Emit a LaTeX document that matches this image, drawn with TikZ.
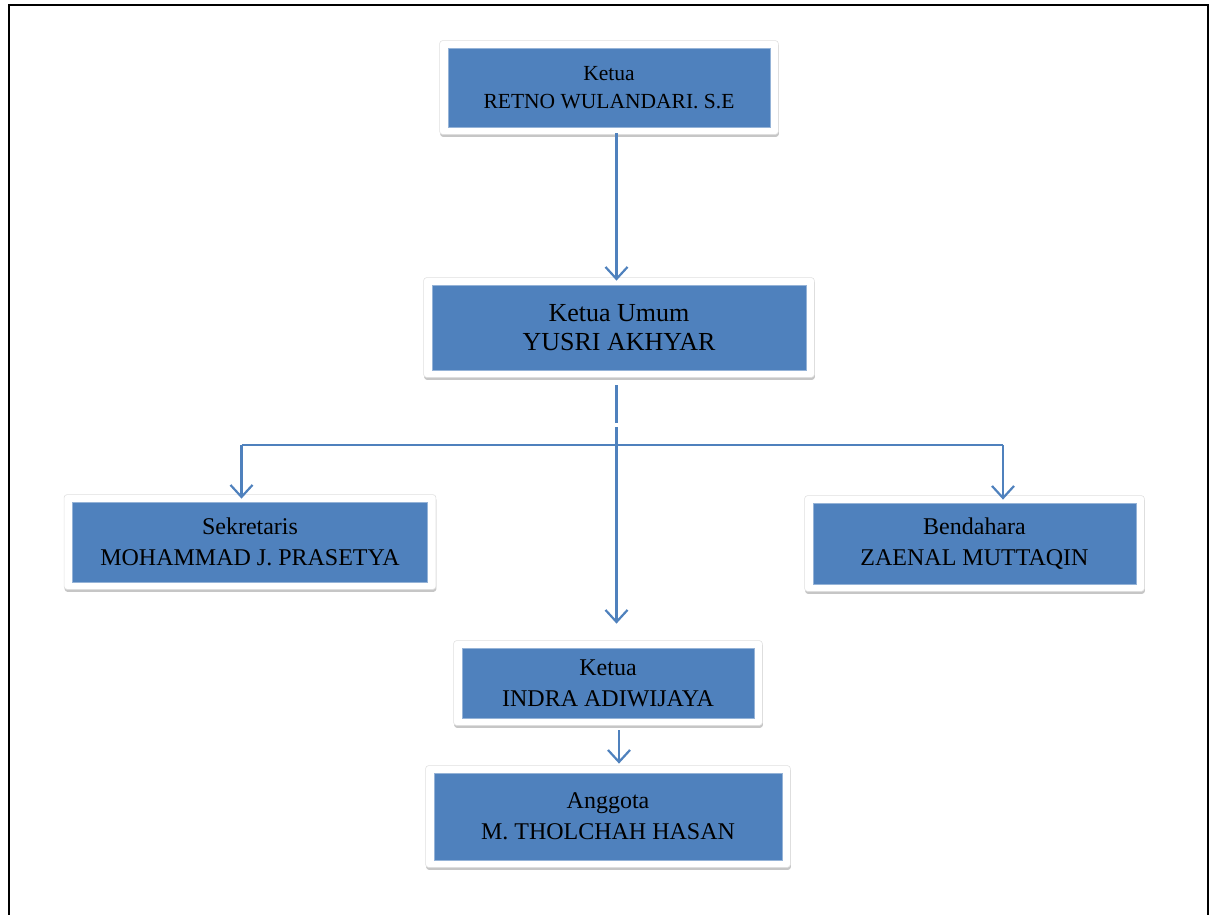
\documentclass[tikz,border=0pt]{standalone}
\usepackage{fontspec}
\setmainfont{Liberation Serif}
\usetikzlibrary{arrows.meta,shadows,backgrounds}
\definecolor{boxblue}{RGB}{79,129,189}
\tikzset{
  unit/.style={fill=boxblue,draw=boxblue!60!white,line width=0.8pt,inner sep=0pt,align=center,text=black},
  namesmall/.style={font=\fontsize{21.5}{28}\selectfont},
  namebig/.style={font=\fontsize{26}{29}\selectfont},
  namemid/.style={font=\fontsize{24}{31}\selectfont},
  frame/.style={fill=white,draw=black!12,line width=0.6pt,rounded corners=3pt,drop shadow={shadow xshift=0.5pt,shadow yshift=-2.5pt,fill=black!50,opacity=0.45}},
  link/.style={draw=boxblue,line width=2.2pt},
  tip/.style={-{Straight Barb[length=12pt,width=22pt]}}
}
\begin{document}
\begin{tikzpicture}[x=1pt,y=-1pt]
\useasboundingbox (0,0) rectangle (1215,915);
\draw[line width=2pt] (9,915) -- (9,5) -- (1208,5) -- (1208,915);
\node[unit,namesmall,minimum width=322pt,minimum height=79pt] (ketua) at (609,87.5) {Ketua\\RETNO WULANDARI. S.E};
\node[unit,namebig,minimum width=374pt,minimum height=85pt] (umum) at (619,327.5) {Ketua Umum\\YUSRI AKHYAR};
\node[unit,namemid,minimum width=355pt,minimum height=80pt] (sek) at (250,542) {Sekretaris\\MOHAMMAD J. PRASETYA};
\node[unit,namemid,minimum width=323pt,minimum height=81pt] (bend) at (974.5,543.5) {Bendahara\\ZAENAL MUTTAQIN};
\node[unit,namemid,minimum width=292pt,minimum height=70pt] (indra) at (608,683) {Ketua\\INDRA ADIWIJAYA};
\node[unit,namemid,minimum width=348pt,minimum height=87pt] (anggota) at (608,816.5) {Anggota\\M. THOLCHAH HASAN};
\begin{scope}[on background layer]
\foreach \n in {ketua,umum,sek,bend,indra,anggota}
  \path[frame] ([shift={(-8,-7)}]\n.north west) rectangle ([shift={(8,7)}]\n.south east);
\end{scope}
\coordinate (spine) at (616.5,0);
\coordinate (split) at (616.5,445);
\coordinate (left) at (241.5,445);
\coordinate (right) at (1003,445);
\coordinate (sub) at (619,0);
\draw[link,tip,shorten <=6pt,shorten >=4pt] (ketua.south -| spine) -- (umum.north -| spine);
\draw[link,shorten <=15pt] (umum.south -| spine) -- ([yshift=22pt]split);
\draw[link,tip,shorten >=24pt] ([yshift=18pt]split) -- (indra.north -| spine);
\draw[link] (left) -- (right);
\draw[link,tip,shorten >=3pt] (left) -- (sek.north -| left);
\draw[link,tip,shorten >=3pt] (right) -- (bend.north -| right);
\draw[link,tip,shorten <=12pt,shorten >=9pt] (indra.south -| sub) -- (anggota.north -| sub);
\end{tikzpicture}
\end{document}
